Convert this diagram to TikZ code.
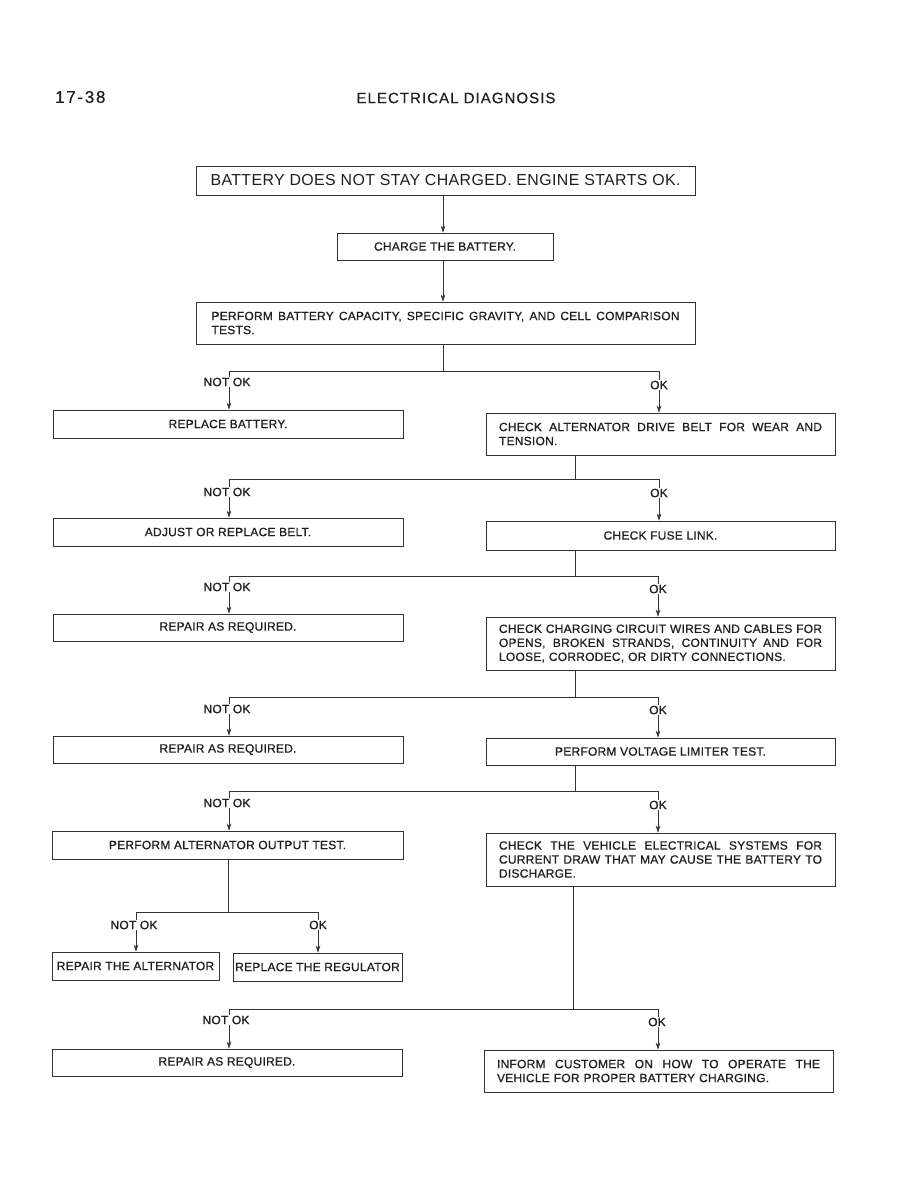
\documentclass[tikz,border=0pt]{standalone}
\usepackage{fontspec}
\setmainfont{Liberation Sans}
\newfontfamily\bfont[LetterSpace=2,FakeBold=0.7]{Liberation Sans}
\newfontfamily\tfont[LetterSpace=2.5]{Liberation Sans}
\newfontfamily\hfont[LetterSpace=7,FakeBold=0.3]{Liberation Sans}
\newfontfamily\pfont[LetterSpace=10,FakeBold=0.5]{Liberation Sans}
\usetikzlibrary{arrows.meta}
\newcommand{\jl}[2]{\leavevmode\hbox to #1pt{\frenchspacing\spaceskip=0.26em plus 1fil minus 0.08em\relax #2}}
\begin{document}
\begin{tikzpicture}[x=1pt,y=-1pt,
  box/.style={draw=black!80, line width=0.6pt, inner sep=0pt, text=black!88,
    font=\bfont\fontsize{12}{14}\selectfont},
  conn/.style={draw=black!80, line width=0.6pt},
  arr/.style={conn, -{Stealth[length=7pt,width=4.5pt]}},
  lbl/.style={fill=white, inner sep=1pt, text=black!88,
    font=\bfont\fontsize{12}{13}\selectfont}]
\useasboundingbox[fill=white] (0,0) rectangle (918,1188);

% header
\node[text=black!88, font=\pfont\fontsize{17}{20}\selectfont, anchor=west, inner sep=0pt] (pg) at (55,97) {17-38};
\node[text=black!88, font=\hfont\fontsize{15}{18}\selectfont] (hd) at (456,98) {ELECTRICAL DIAGNOSIS};

% main column
\node[box, minimum width=499pt, minimum height=29pt, font=\tfont\fontsize{15.9}{19}\selectfont] (b1) at (445.5,180.5) {BATTERY DOES NOT STAY CHARGED. ENGINE STARTS OK.};
\node[box, minimum width=216pt, minimum height=27pt] (b2) at (445,246.5) {CHARGE THE BATTERY.};
\node[box, minimum width=499pt, minimum height=42pt, text width=468pt, align=left] (b3) at (445.5,323)
  {\jl{468}{PERFORM BATTERY CAPACITY, SPECIFIC GRAVITY, AND CELL COMPARISON}\\TESTS.};

% left column
\node[box, minimum width=350pt, minimum height=28pt] (l1) at (228,424) {REPLACE BATTERY.};
\node[box, minimum width=350pt, minimum height=28pt] (l2) at (228,532) {ADJUST OR REPLACE BELT.};
\node[box, minimum width=350pt, minimum height=27pt] (l3) at (228,627.5) {REPAIR AS REQUIRED.};
\node[box, minimum width=350pt, minimum height=27pt] (l4) at (228,749.5) {REPAIR AS REQUIRED.};
\node[box, minimum width=351pt, minimum height=28pt] (l5) at (227.5,845) {PERFORM ALTERNATOR OUTPUT TEST.};
\node[box, minimum width=167pt, minimum height=28pt] (l6) at (135.5,966) {REPAIR THE ALTERNATOR};
\node[box, minimum width=169pt, minimum height=28pt] (l7) at (317.5,967) {REPLACE THE REGULATOR};
\node[box, minimum width=350pt, minimum height=27pt] (l8) at (227,1062.5) {REPAIR AS REQUIRED.};

% right column
\node[box, minimum width=349pt, minimum height=42pt, text width=323pt, align=left] (r1) at (660.5,434)
  {\jl{323}{CHECK ALTERNATOR DRIVE BELT FOR WEAR AND}\\TENSION.};
\node[box, minimum width=349pt, minimum height=29pt] (r2) at (660.5,535.5) {CHECK FUSE LINK.};
\node[box, minimum width=349pt, minimum height=53pt, text width=323pt, align=left] (r3) at (660.5,643.5)
  {\jl{323}{CHECK CHARGING CIRCUIT WIRES AND CABLES FOR}\\\jl{323}{OPENS, BROKEN STRANDS, CONTINUITY\kern6pt AND FOR}\\LOOSE, CORRODEC, OR DIRTY CONNECTIONS.};
\node[box, minimum width=349pt, minimum height=27pt] (r4) at (660.5,751.5) {PERFORM VOLTAGE LIMITER TEST.};
\node[box, minimum width=349pt, minimum height=53pt, text width=323pt, align=left] (r5) at (660.5,859.5)
  {\jl{323}{CHECK THE VEHICLE ELECTRICAL SYSTEMS FOR}\\\jl{323}{CURRENT DRAW THAT MAY CAUSE THE BATTERY TO}\\DISCHARGE.};
\node[box, minimum width=349pt, minimum height=42pt, text width=323pt, align=left] (r6) at (658.5,1071)
  {\jl{323}{INFORM CUSTOMER ON HOW TO OPERATE THE}\\VEHICLE FOR PROPER BATTERY CHARGING.};

% straight connectors
\coordinate (c0) at (443,0);
\draw[arr] (b1.south -| c0) -- (b2.north -| c0);
\draw[arr] (b2.south -| c0) -- (b3.north -| c0);

% branch junctions
\coordinate (j1) at (443,371);  \coordinate (j1l) at (229,371); \coordinate (j1r) at (659,371);
\coordinate (j2) at (575,479);  \coordinate (j2l) at (229,479); \coordinate (j2r) at (659,479);
\coordinate (j3) at (575,576);  \coordinate (j3l) at (229,576); \coordinate (j3r) at (658,576);
\coordinate (j4) at (575,697);  \coordinate (j4l) at (229,697); \coordinate (j4r) at (658,697);
\coordinate (j5) at (575,791);  \coordinate (j5l) at (229,791); \coordinate (j5r) at (658,791);
\coordinate (j6) at (228,912);  \coordinate (j6l) at (136,912); \coordinate (j6r) at (318,912);
\coordinate (j7) at (573,1009); \coordinate (j7l) at (229,1009); \coordinate (j7r) at (658,1009);

\draw[conn] (b3.south -| j1) -- (j1);
\draw[conn] (r1.south -| j2) -- (j2);
\draw[conn] (r2.south -| j3) -- (j3);
\draw[conn] (r3.south -| j4) -- (j4);
\draw[conn] (r4.south -| j5) -- (j5);
\draw[conn] (l5.south -| j6) -- (j6);
\draw[conn] (r5.south -| j7) -- (j7);

\draw[conn] (j1l) -- (j1r);
\draw[conn] (j2l) -- (j2r);
\draw[conn] (j3l) -- (j3r);
\draw[conn] (j4l) -- (j4r);
\draw[conn] (j5l) -- (j5r);
\draw[conn] (j6l) -- (j6r);
\draw[conn] (j7l) -- (j7r);

\draw[arr] (j1l) -- (l1.north -| j1l);  \draw[arr] (j1r) -- (r1.north -| j1r);
\draw[arr] (j2l) -- (l2.north -| j2l);  \draw[arr] (j2r) -- (r2.north -| j2r);
\draw[arr] (j3l) -- (l3.north -| j3l);  \draw[arr] (j3r) -- (r3.north -| j3r);
\draw[arr] (j4l) -- (l4.north -| j4l);  \draw[arr] (j4r) -- (r4.north -| j4r);
\draw[arr] (j5l) -- (l5.north -| j5l);  \draw[arr] (j5r) -- (r5.north -| j5r);
\draw[arr] (j6l) -- (l6.north -| j6l);  \draw[arr] (j6r) -- (l7.north -| j6r);
\draw[arr] (j7l) -- (l8.north -| j7l);  \draw[arr] (j7r) -- (r6.north -| j7r);

% labels
\node[lbl] (n1) at (227,382) {NOT OK}; \node[lbl] (o1) at (659,385) {OK};
\node[lbl] (n2) at (227,492) {NOT OK}; \node[lbl] (o2) at (659,493) {OK};
\node[lbl] (n3) at (227,587) {NOT OK}; \node[lbl] (o3) at (658,589) {OK};
\node[lbl] (n4) at (227,709) {NOT OK}; \node[lbl] (o4) at (658,710) {OK};
\node[lbl] (n5) at (227,803) {NOT OK}; \node[lbl] (o5) at (658,805) {OK};
\node[lbl] (n6) at (134,925) {NOT OK}; \node[lbl] (o6) at (318,925) {OK};
\node[lbl] (n7) at (226,1020) {NOT OK}; \node[lbl] (o7) at (657,1022) {OK};
\end{tikzpicture}
\end{document}
